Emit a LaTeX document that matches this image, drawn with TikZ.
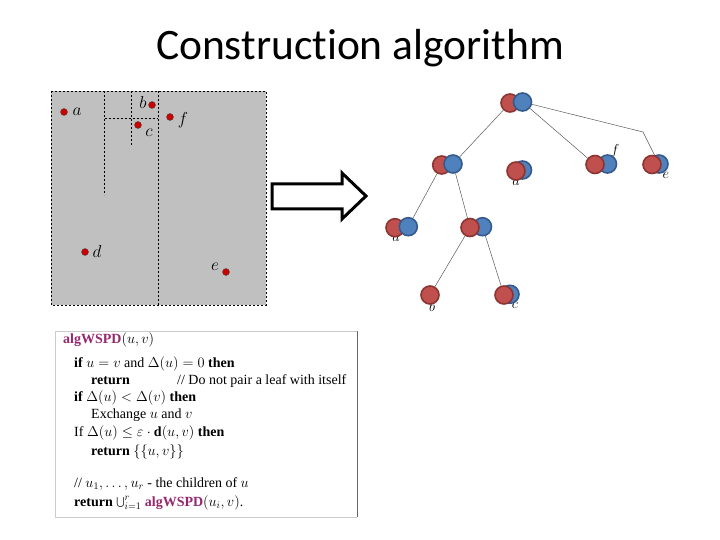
\documentclass[tikz,border=0pt]{standalone}
\usepackage{fontspec}
\setmainfont{Liberation Serif}
\newfontfamily\titlefont[Ligatures=NoCommon]{Carlito}
\usetikzlibrary{backgrounds}

\definecolor{ptred}{RGB}{192,80,77}
\definecolor{ptredline}{RGB}{140,52,50}
\definecolor{ptblue}{RGB}{79,129,189}
\definecolor{ptblueline}{RGB}{55,90,140}
\definecolor{panelgray}{RGB}{192,192,192}
\definecolor{algpurple}{RGB}{150,40,110}

\tikzset{
  redball/.style={circle, fill=ptred, draw=ptredline, line width=1.6pt, minimum size=18pt, inner sep=0pt},
  blueball/.style={circle, fill=ptblue, draw=ptblueline, line width=1.6pt, minimum size=18pt, inner sep=0pt},
  pt/.style={circle, fill=red!80!black, draw=black!70, line width=0.4pt, minimum size=7pt, inner sep=0pt},
  ptlabel/.style={inner sep=0pt, font=\fontsize{17}{17}\selectfont},
  treelabel/.style={inner sep=0pt, font=\fontsize{15}{15}\selectfont},
  algline/.style={anchor=base west, inner sep=0pt, font=\fontsize{14}{15}\selectfont},
  edge/.style={draw=black!65, line width=0.5pt}
}

\begin{document}
\begin{tikzpicture}[x=1pt,y=-1pt]
  \useasboundingbox (0,0) rectangle (720,540);

  \node (title) at (360,48) {\titlefont\fontsize{43.5}{43.5}\selectfont Construction algorithm};

  % the point set and its split lines
  \fill[panelgray] (51,91) rectangle (266,305);
  \draw[dash pattern=on 2pt off 2pt, line width=0.6pt] (51,91) rectangle (266,305);
  \draw[dash pattern=on 2pt off 2pt, line width=0.6pt] (158,91) -- (158,305);
  \draw[dash pattern=on 2pt off 2pt, line width=0.6pt] (104.7,91) -- (104.7,195);
  \draw[dash pattern=on 2pt off 2pt, line width=0.6pt] (104.7,118) -- (158,118);
  \draw[dash pattern=on 2pt off 2pt, line width=0.6pt] (131,91) -- (131,145);

  \node[pt] (pa) at (64,112) {};
  \node[pt] (pb) at (152,105) {};
  \node[pt] (pc) at (138,125) {};
  \node[pt] (pf) at (170,117) {};
  \node[pt] (pd) at (85,252) {};
  \node[pt] (pe) at (226,272) {};
  \node[ptlabel] (la) at (77,112) {$a$};
  \node[ptlabel] (lb) at (143,103) {$b$};
  \node[ptlabel] (lc) at (149,133) {$c$};
  \node[ptlabel] (lf) at (183,120) {$f$};
  \node[ptlabel] (ld) at (97,252) {$d$};
  \node[ptlabel] (le) at (215,267) {$e$};

  % block arrow
  \draw[line width=3pt, miter limit=10] (272,184) -- (342,184) -- (342,173) -- (366,196)
    -- (342,219) -- (342,209) -- (272,209) -- cycle;

  % tree labels (partly hidden by the balls)
  \node[treelabel] (tf) at (615,151) {$f$};
  \node[treelabel] (te) at (666,175) {$e$};
  \node[treelabel] (tam) at (516,182) {$a$};
  \node[treelabel] (tal) at (396,238) {$a$};
  \node[treelabel] (tb) at (432,306) {$b$};
  \node[treelabel] (tc) at (515,305) {$c$};

  % tree balls
  \node[redball] (rootR) at (510,103) {};
  \node[blueball] (rootB) at (522.5,102) {};
  \node[redball] (n1R) at (441.7,165) {};
  \node[blueball] (n1B) at (453,164) {};
  \node[blueball] (amB) at (522.5,170) {};
  \node[redball] (amR) at (516,171) {};
  \node[blueball] (fB) at (607.5,164) {};
  \node[redball] (fR) at (595,164.5) {};
  \node[blueball] (eB) at (659,164) {};
  \node[redball] (eR) at (652,164.5) {};
  \node[redball] (alR) at (395,227.7) {};
  \node[blueball] (alB) at (408.3,226.7) {};
  \node[blueball] (bcB) at (482.5,226.7) {};
  \node[redball] (bcR) at (470,227.5) {};
  \node[redball] (bR) at (430,295) {};
  \node[blueball] (cB) at (510,294.3) {};
  \node[redball] (cR) at (504,295) {};
  \coordinate (ebend) at (643,132);

  \begin{pgfonlayer}{background}
    \draw[edge] (rootR) -- (n1B);
    \draw[edge] (rootB) -- (fR);
    \draw[edge] (rootB) -- (ebend) -- (eB);
    \draw[edge] (n1R) -- (alB);
    \draw[edge] (n1B) -- (bcR);
    \draw[edge] (bcR) -- (bR);
    \draw[edge] (bcB) -- (cR);
  \end{pgfonlayer}

  % the algorithm
  \draw[black!20] (55,331) -- (357,331);
  \draw[black!20] (55,517) -- (357,517);
  \draw[black!20] (55,331) -- (55,517);
  \draw[black!60] (357,331) -- (357,517);
  \node[algline] (l1) at (63,343) {\textcolor{algpurple}{\textbf{algWSPD}}$(u,v)$};
  \node[algline] (l2) at (74,367) {\textbf{if} $u=v$ and $\Delta(u)=0$ \textbf{then}};
  \node[algline] (l3) at (91,384) {\textbf{return}};
  \node[algline] (l3c) at (177,384) {// Do not pair a leaf with itself};
  \node[algline] (l4) at (74,401) {\textbf{if} $\Delta(u)<\Delta(v)$ \textbf{then}};
  \node[algline] (l5) at (91,418) {Exchange $u$ and $v$};
  \node[algline] (l6) at (74,436) {If $\Delta(u)\leq\varepsilon\cdot\mathbf{d}(u,v)$ \textbf{then}};
  \node[algline] (l7) at (91,455) {\textbf{return} $\bigl\{\{u,v\}\bigr\}$};
  \node[algline] (l8) at (74,487) {// $u_1,\ldots,u_r$ - the children of $u$};
  \node[algline] (l9) at (74,506) {\textbf{return} $\bigcup_{i=1}^{r}$ \textcolor{algpurple}{\textbf{algWSPD}}$(u_i,v)$.};
\end{tikzpicture}
\end{document}
